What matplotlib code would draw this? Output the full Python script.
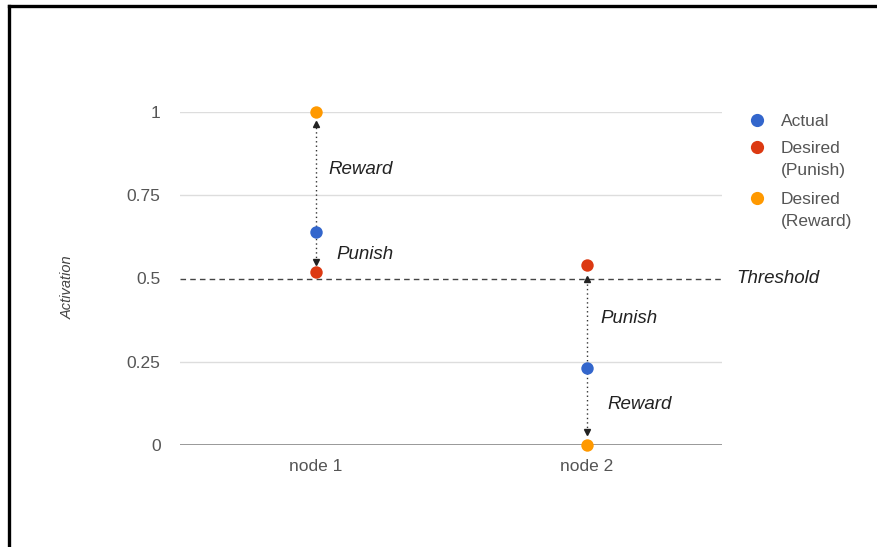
import matplotlib
matplotlib.use("Agg")
import matplotlib.pyplot as plt
from matplotlib.lines import Line2D

plt.rcParams['font.family'] = ['Liberation Sans', 'DejaVu Sans']

nodes = ["node 1", "node 2"]
actual = [0.64, 0.23]
desired_punish = [0.52, 0.54]
desired_reward = [1.0, 0.0]
threshold = 0.5

series_labels = ["Actual", "Desired\n(Punish)", "Desired\n(Reward)"]
colors = ["#3366cc", "#dc3912", "#ff9900"]

# dotted arrows: (x index, bottom, top)
arrow_spans = [(0, 0.55, 0.965), (1, 0.04, 0.5)]
# notes: (x index, x offset in px, y, text)
notes = [(0, 13, 0.826, "Reward"), (0, 21, 0.571, "Punish"),
         (1, 14, 0.381, "Punish"), (1, 21, 0.123, "Reward")]

W, H = 878, 547
fig = plt.figure(figsize=(W / 100, H / 100), dpi=100)
ax = fig.add_axes([180 / W, 1 - 445 / H, 542 / W, 333 / H])
xs = list(range(len(nodes)))
px = 2 / 542  # data units per pixel along x

for y in [0.25, 0.75, 1.0]:
    ax.axhline(y, color="#dddddd", lw=1, zorder=0)
ax.axhline(0, color="#999999", lw=1.4, zorder=1)
ax.axhline(threshold, color="#444444", lw=1, ls=(0, (4, 3)), zorder=1)

for i, lo, hi in arrow_spans:
    ax.plot([i, i], [lo, hi], color="#333333", lw=1, ls=(0, (1, 2.2)), zorder=2)
    ax.plot(i, hi, marker="^", ms=4.5, color="#222222", zorder=3, clip_on=False)
    ax.plot(i, lo, marker="v", ms=4.5, color="#222222", zorder=3, clip_on=False)

for vals, c in zip([actual, desired_punish, desired_reward], colors):
    ax.scatter(xs, vals, s=80, color=c, zorder=4, clip_on=False, linewidths=0)

for i, off, y, txt in notes:
    ax.text(i + off * px, y, txt, fontsize=13.5, style="italic", color="#222222",
            va="center", ha="left")
ax.text(1.5 + 14 * px, threshold, "Threshold", fontsize=13.5, style="italic",
        color="#222222", va="center", ha="left", clip_on=False)

ax.set_xlim(-0.5, 1.5)
ax.set_ylim(0, 1)
ax.set_xticks(xs)
ax.set_xticklabels(nodes)
ax.set_yticks([0, 0.25, 0.5, 0.75, 1])
ax.set_yticklabels(["0", "0.25", "0.5", "0.75", "1"])
ax.tick_params(length=0, labelsize=12.5, labelcolor="#555555")
ax.tick_params(axis="x", pad=10)
ax.tick_params(axis="y", pad=14)
for s in ax.spines.values():
    s.set_visible(False)

fig.text(68 / W, 1 - 287 / H, "Activation", fontsize=10.5, style="italic",
         color="#444444", rotation=90, ha="center", va="center")

# legend, drawn by hand to match the stacked layout
row_y = [120, 147, 198]
for lab, c, ry in zip(series_labels, colors, row_y):
    fig.add_artist(Line2D([757 / W], [1 - ry / H], marker="o", ms=9.5, color=c,
                          mew=0, transform=fig.transFigure))
    fig.text(781 / W, 1 - (ry - 6) / H, lab, fontsize=12.5, color="#555555",
             ha="left", va="top", linespacing=1.6)

# frame lines of the screenshot
fig.add_artist(Line2D([9 / W, 1], [1 - 6 / H, 1 - 6 / H], color="black", lw=2.4,
                      transform=fig.transFigure))
fig.add_artist(Line2D([9 / W, 9 / W], [0, 1 - 6 / H], color="black", lw=2.4,
                      transform=fig.transFigure))

fig.savefig("out.png", dpi=100)
